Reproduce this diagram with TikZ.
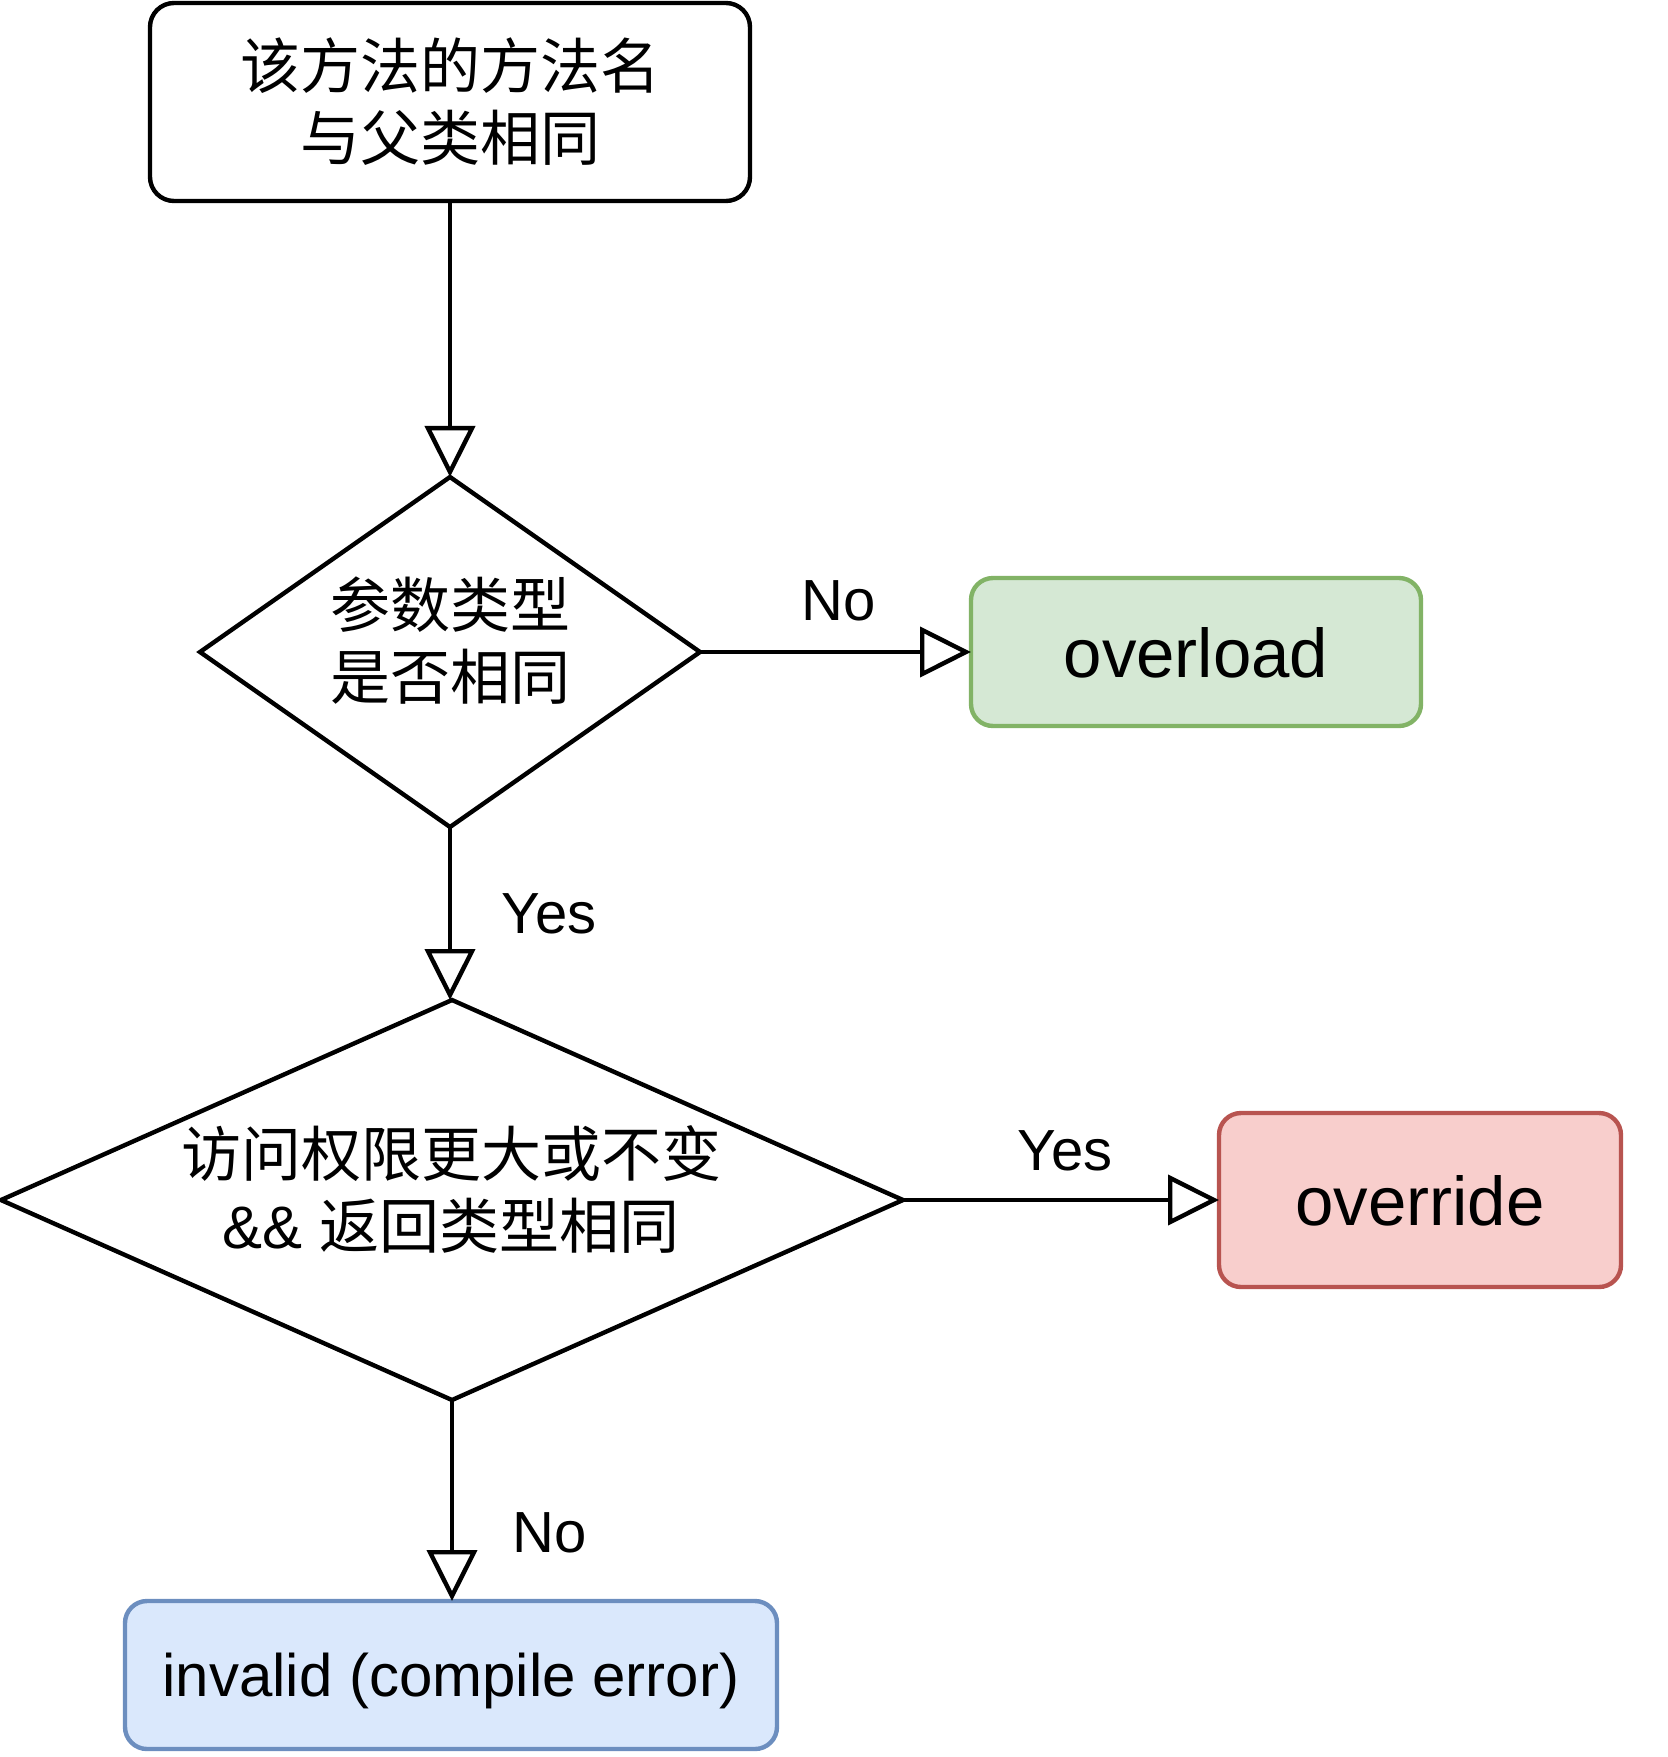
\documentclass[tikz,border=0pt]{standalone}
\usepackage{fontspec}
\setmainfont{Liberation Sans}
\newfontfamily\cjk{Noto Sans CJK SC}
\usetikzlibrary{shapes.geometric,arrows.meta}
\definecolor{gfill}{HTML}{D5E8D4}\definecolor{gline}{HTML}{82B366}
\definecolor{rfill}{HTML}{F8CECC}\definecolor{rline}{HTML}{B85450}
\definecolor{bfill}{HTML}{DAE8FC}\definecolor{bline}{HTML}{6C8EBF}
\tikzset{
  box/.style={draw, line width=2.2pt, rounded corners=11pt, inner sep=0pt, outer sep=0pt, align=center},
  dia/.style={draw, line width=2.2pt, shape=diamond, inner sep=0pt, outer sep=0pt},
  cjktext/.style={font=\cjk\fontsize{30}{36}\selectfont, align=center, inner sep=0pt},
  bigtext/.style={font=\fontsize{34.5}{40}\selectfont, text height=25pt, text depth=0pt},
  lbl/.style={font=\fontsize{29}{34}\selectfont, inner sep=0pt},
  conn/.style={line width=2.2pt, -{Triangle[open, length=25.5pt, width=25pt, line width=2.2pt]}},
}
\begin{document}
\begin{tikzpicture}[x=0.5pt,y=-0.5pt]
\useasboundingbox (0,0) rectangle (1667,1757);
\node[box, rounded corners=12pt, minimum width=300pt, minimum height=99pt, cjktext] (top) at (450,102) {该方法的方法名\\与父类相同};
\node[dia, minimum width=250pt, minimum height=175pt] (d1) at (450,652) {};
\node[cjktext] (d1t) at (450,641) {参数类型\\是否相同};
\node[box, fill=gfill, draw=gline, minimum width=225pt, minimum height=74pt, bigtext] (overload) at (1196,652) {overload};
\node[dia, minimum width=451pt, minimum height=200pt] (d2) at (452,1200) {};
\node[cjktext] (d2t) at (451,1189) {访问权限更大或不变\\{\fontspec{Liberation Sans}\&\& }返回类型相同};
\node[box, fill=rfill, draw=rline, minimum width=201pt, minimum height=87pt, bigtext] (override) at (1420,1200) {override};
\node[box, fill=bfill, draw=bline, minimum width=326pt, minimum height=74pt, font=\fontsize{30}{36}\selectfont, text height=21pt, text depth=0pt] (invalid) at (451,1675) {invalid (compile error)};
\draw[conn] (top) -- (d1);
\draw[conn] (d1) -- (overload);
\draw[conn] (d1) -- (d1 |- d2.north);
\draw[conn] (d2) -- (override);
\draw[conn] (d2.south) -- (d2.south |- invalid.north);
\node[lbl] (l1) at (839,601) {No};
\node[lbl] (l2) at (549,914) {Yes};
\node[lbl] (l3) at (1065,1151) {Yes};
\node[lbl] (l4) at (550,1533) {No};
\end{tikzpicture}
\end{document}
